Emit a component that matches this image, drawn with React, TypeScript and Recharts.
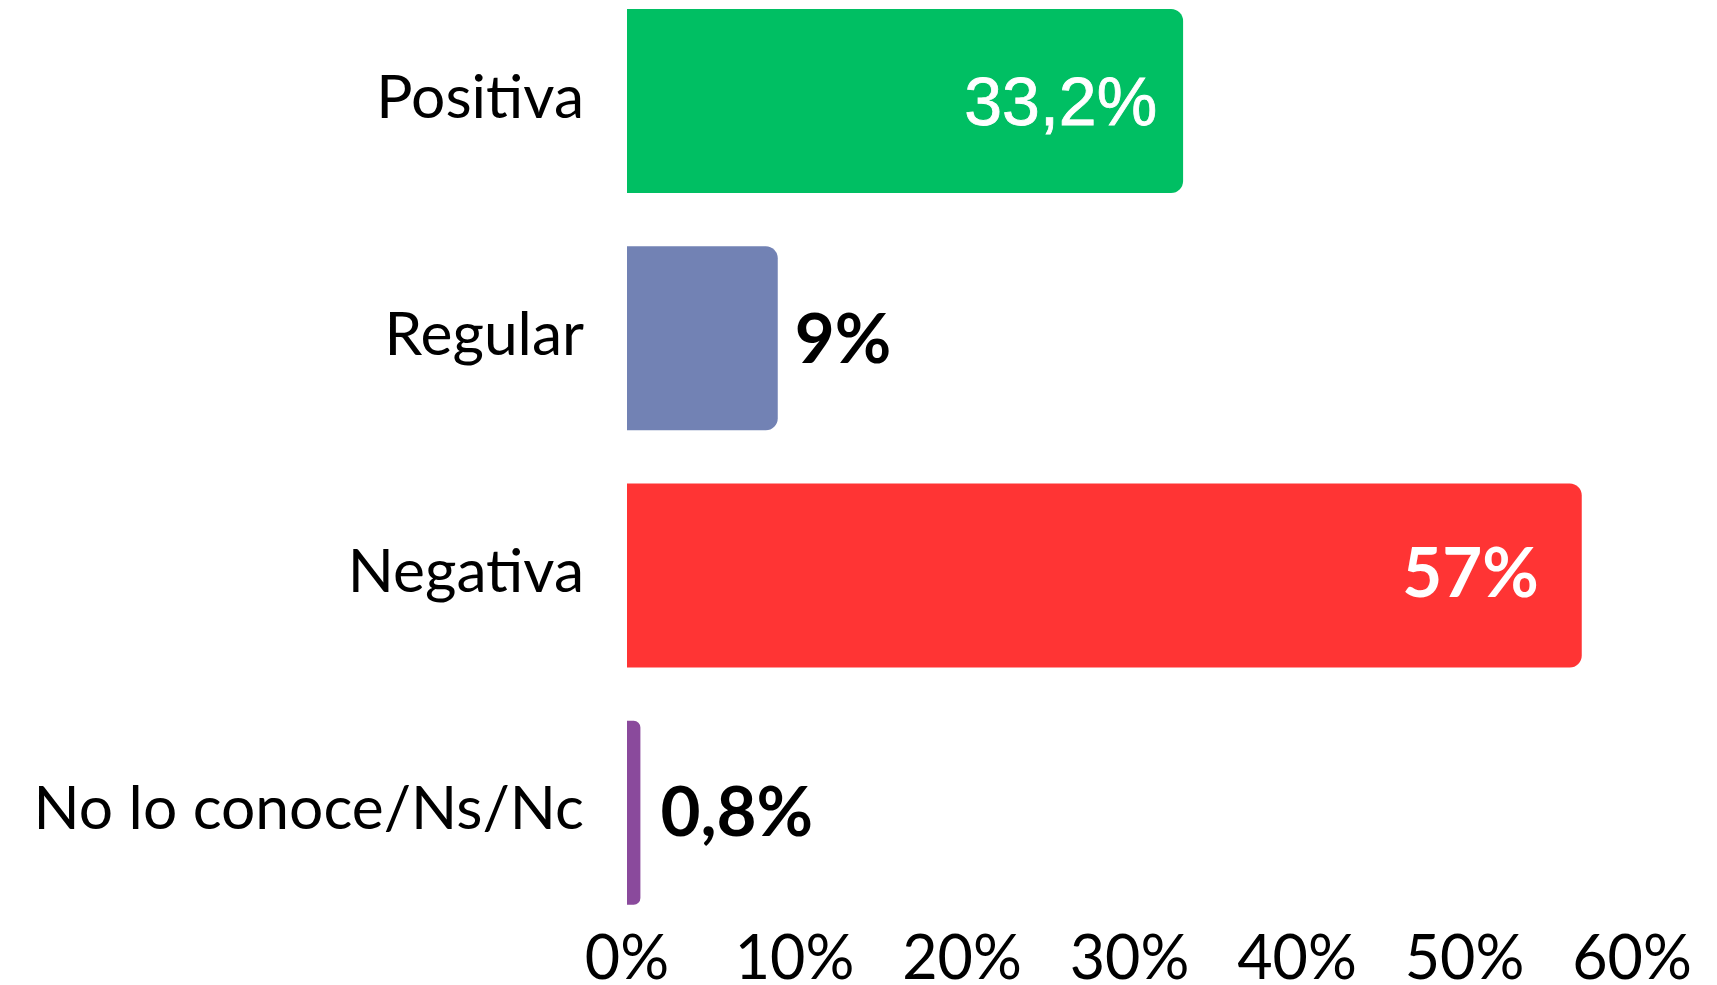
import React from "react";
import { BarChart, Bar, XAxis, YAxis, Cell, LabelList } from "recharts";

const categories = ["Positiva", "Regular", "Negativa", "No lo conoce/Ns/Nc"];
const values = [33.2, 9, 57, 0.8];
const valueLabels = ["33,2%", "9%", "57%", "0,8%"];
const xTicks = [0, 10, 20, 30, 40, 50, 60];
const xTickLabels = ["0%", "10%", "20%", "30%", "40%", "50%", "60%"];

const colors = ["#00BF63", "#7282B4", "#FF3434", "#8A4A9C"];
// label style per bar (presentation only)
const labelStyles = [
  { inside: true, font: "'Liberation Sans', Arial, sans-serif", weight: 400, size: 68, pad: 26, dy: 24, stroke: 0.8 },
  { inside: false, font: "Lato, sans-serif", weight: 700, size: 69, pad: 17, dy: 25, stroke: 0 },
  { inside: true, font: "Lato, sans-serif", weight: 700, size: 69, pad: 43, dy: 21, stroke: 0 },
  { inside: false, font: "Lato, sans-serif", weight: 700, size: 69, pad: 20, dy: 23, stroke: 0 },
];

const data = categories.map((name, i) => ({ name, value: values[i], label: valueLabels[i] }));

const YTick = (props: any) => {
  const { x, y, payload } = props;
  return (
    <text x={x - 43} y={y + 17} textAnchor="end" fontFamily="Lato, sans-serif" fontSize={60.5} fill="#000">
      {payload.value}
    </text>
  );
};

const XTick = (props: any) => {
  const { x, y, payload } = props;
  const idx = xTicks.indexOf(payload.value);
  return (
    <text x={x} y={y + 48} textAnchor="middle" fontFamily="Lato, sans-serif" fontSize={61} fill="#000">
      {xTickLabels[idx]}
    </text>
  );
};

const ValueLabel = (props: any) => {
  const { x, y, width, height, index } = props;
  const s = labelStyles[index];
  const cy = y + height / 2;
  const fill = s.inside ? "#fff" : "#000";
  return (
    <text
      x={s.inside ? x + width - s.pad : x + width + s.pad}
      y={cy + s.dy}
      textAnchor={s.inside ? "end" : "start"}
      fontFamily={s.font}
      fontWeight={s.weight}
      fontSize={s.size}
      fill={fill}
      stroke={s.stroke ? fill : "none"}
      strokeWidth={s.stroke}
    >
      {valueLabels[index]}
    </text>
  );
};

export default function App() {
  return (
    <div style={{ position: "absolute", left: 0, top: 0, width: 1717, height: 985, background: "#fff" }}>
      <BarChart
        width={1717}
        height={985}
        data={data}
        layout="vertical"
        margin={{ top: -18, right: 85, bottom: 24, left: 0 }}
      >
        <XAxis
          type="number"
          domain={[0, 60]}
          ticks={xTicks}
          axisLine={false}
          tickLine={false}
          tickSize={0}
          tickMargin={0}
          tick={<XTick />}
          interval={0}
        />
        <YAxis
          type="category"
          dataKey="name"
          width={627}
          axisLine={false}
          tickLine={false}
          tickSize={0}
          tickMargin={0}
          tick={<YTick />}
          interval={0}
        />
        <Bar dataKey="value" barSize={184} radius={[0, 12, 12, 0]} isAnimationActive={false}>
          {data.map((d, i) => (
            <Cell key={d.name} fill={colors[i]} />
          ))}
          <LabelList dataKey="value" content={<ValueLabel />} />
        </Bar>
      </BarChart>
    </div>
  );
}
